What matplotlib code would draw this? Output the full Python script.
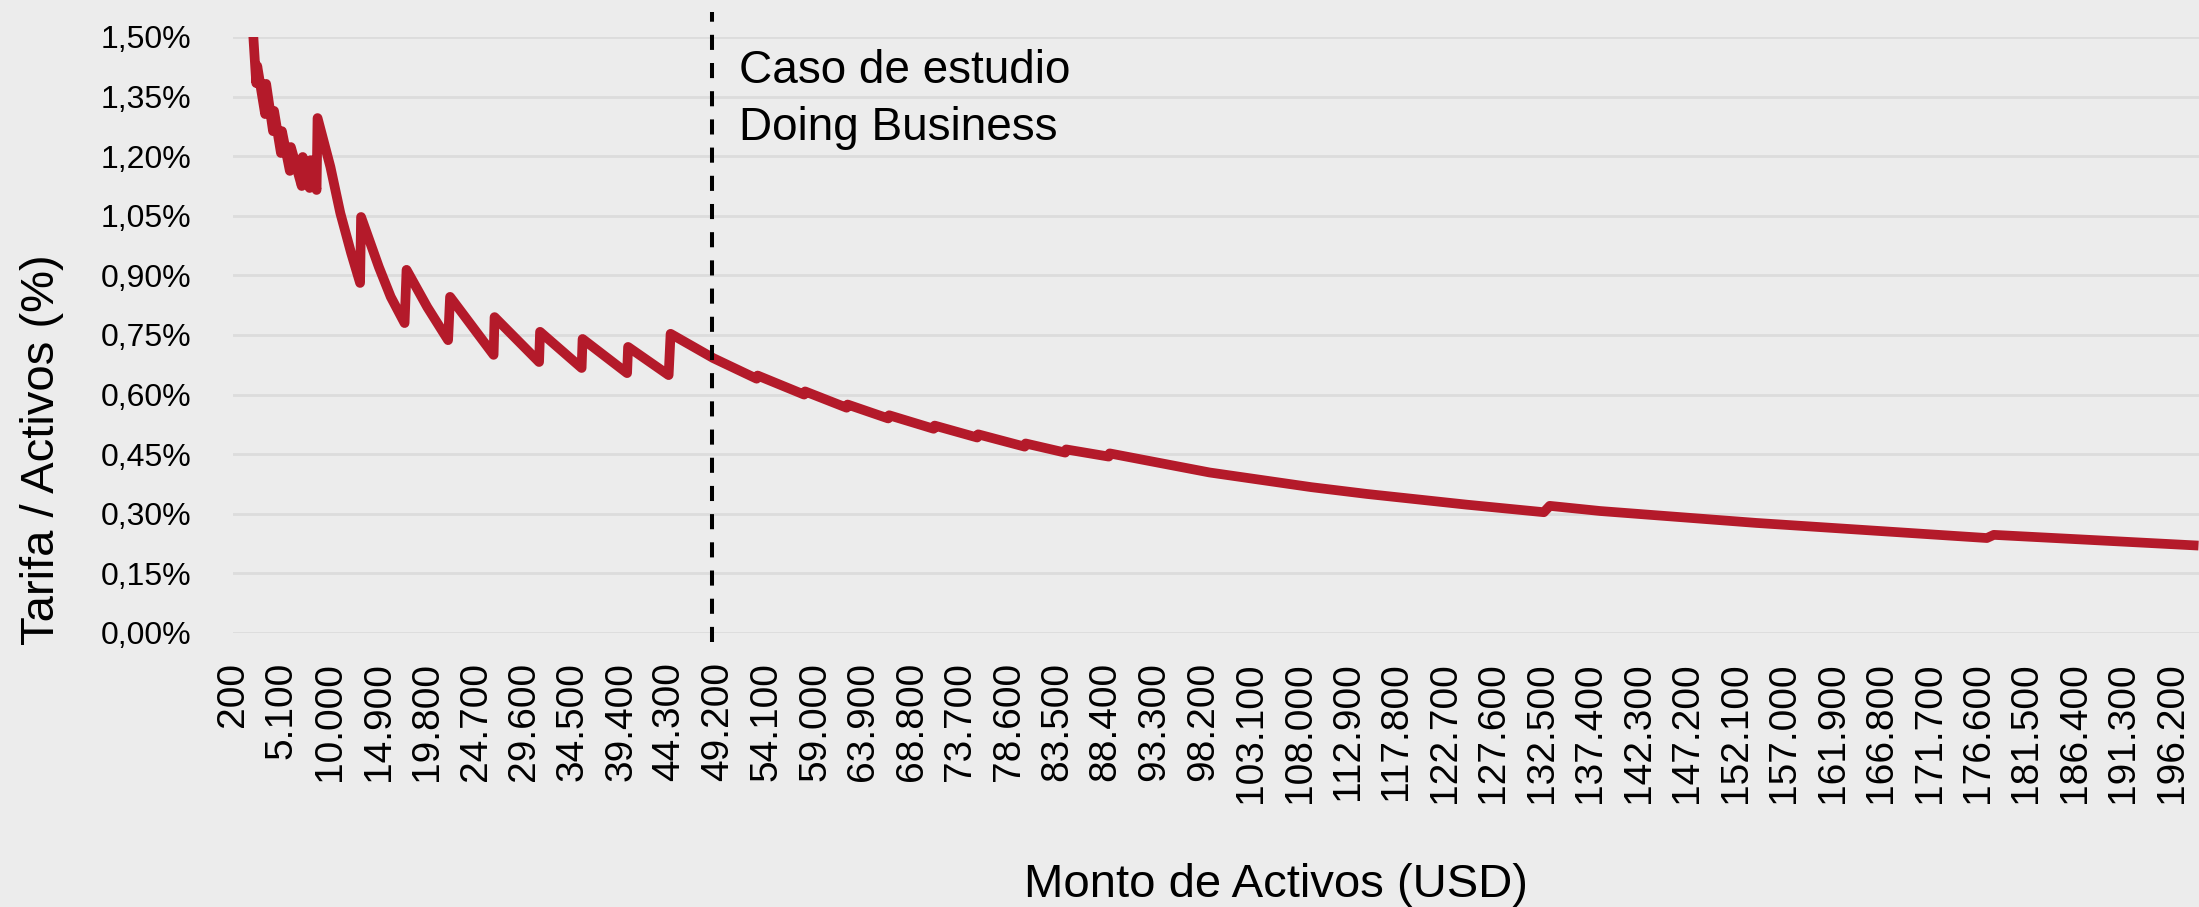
import numpy as np
import matplotlib
matplotlib.use('Agg')
import matplotlib.pyplot as plt

# Monto de activos (USD) y tarifa / activos (%)
monto = [2100, 2500, 2600, 3400, 3500, 4200, 4300, 5000, 5100, 5900, 6000,
         7100, 7200, 7900, 8000, 8600, 8700, 10000, 11000, 12100, 13000,
         13100, 14900, 16100, 17500, 17700, 19800, 21900, 22100, 26500,
         26600, 31100, 31200, 35400, 35500, 40000, 40100, 44200, 44400,
         48700, 53100, 53200, 57900, 58000, 62200, 62300, 66400, 66500,
         71000, 71100, 75400, 75500, 80200, 80300, 84300, 84400, 88700,
         88800, 98900, 109200, 114800, 124900, 132700, 133300, 138400,
         154200, 177500, 178200, 198900]
tarifa = [1.543, 1.384, 1.427, 1.306, 1.382, 1.263, 1.314, 1.208, 1.263,
          1.163, 1.223, 1.125, 1.198, 1.120, 1.190, 1.115, 1.296, 1.173,
          1.057, 0.956, 0.881, 1.047, 0.921, 0.846, 0.780, 0.914, 0.820,
          0.737, 0.846, 0.700, 0.795, 0.682, 0.758, 0.667, 0.740, 0.654,
          0.720, 0.649, 0.753, 0.692, 0.640, 0.648, 0.600, 0.608, 0.567,
          0.575, 0.540, 0.548, 0.514, 0.522, 0.492, 0.500, 0.469, 0.477,
          0.454, 0.462, 0.444, 0.452, 0.404, 0.367, 0.350, 0.323, 0.304,
          0.320, 0.307, 0.277, 0.239, 0.247, 0.220]

caso_estudio = 48600
x_ticks = np.arange(200, 200000, 4900)
y_ticks = np.arange(0, 1.51, 0.15)

fig = plt.figure(figsize=(21.99, 9.07), dpi=100)
fig.patch.set_facecolor('#ececec')
ax = fig.add_axes([233 / 2199, 274 / 907, 1 - 233 / 2199, 596 / 907])
ax.set_facecolor('#ececec')

ax.plot(monto, tarifa, color='#b41a2a', lw=7, solid_joinstyle='round',
        solid_capstyle='butt')

# linea vertical del caso de estudio
ax.plot([caso_estudio, caso_estudio], [-0.023, 1.563], color='black', lw=2.9,
        dashes=(3.75, 3.25), clip_on=False)

ax.set_xlim(150, 198950)
ax.set_ylim(0, 1.5)

ax.set_yticks(y_ticks)
ax.set_yticklabels([f'{v:.2f}%'.replace('.', ',') for v in y_ticks],
                   fontsize=23, family='Liberation Sans')
ax.set_xticks(x_ticks)
ax.set_xticklabels([f'{v:,}'.replace(',', '.') for v in x_ticks],
                   rotation=90, fontsize=28, family='Liberation Sans')
ax.tick_params(axis='y', length=0, pad=30)
ax.tick_params(axis='x', length=0, pad=21)
ax.grid(axis='y', color='#dcdcdc', lw=2)
ax.set_axisbelow(True)
for s in ax.spines.values():
    s.set_visible(False)

fig.text(739 / 2199, 1 - 83 / 907, 'Caso de estudio', fontsize=33,
         family='Liberation Sans', va='baseline', ha='left')
fig.text(739 / 2199, 1 - 140 / 907, 'Doing Business', fontsize=33,
         family='Liberation Sans', va='baseline', ha='left')

fig.text(42 / 2199, 1 - 450 / 907, 'Tarifa / Activos (%)', fontsize=34,
         family='Liberation Sans', rotation=90, ha='center', va='center')
fig.text(1276 / 2199, 1 - 885 / 907, 'Monto de Activos (USD)', fontsize=34,
         family='Liberation Sans', ha='center', va='center')

fig.savefig('out.png', dpi=100, facecolor=fig.get_facecolor())
